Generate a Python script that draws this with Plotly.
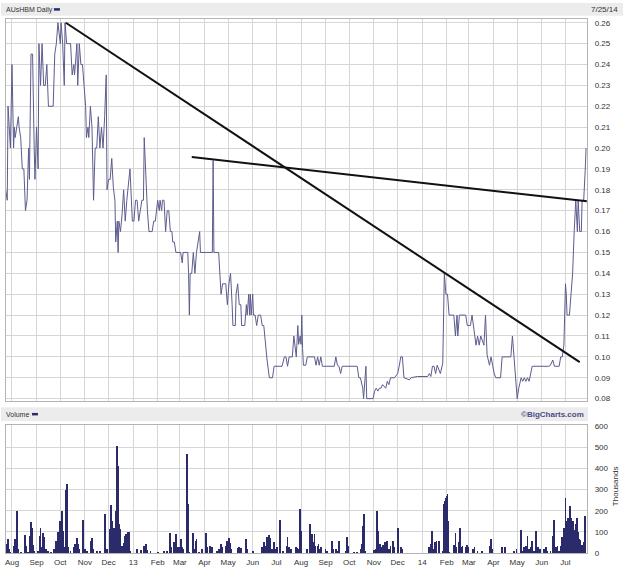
import plotly.graph_objects as go

W, H = 623, 572

# ---------------- data ----------------
price_dates = [
 "2012-07-24","2012-07-26","2012-07-27","2012-07-30","2012-08-01","2012-08-03","2012-08-04","2012-08-05",
 "2012-08-07","2012-08-09","2012-08-10","2012-08-12","2012-08-14","2012-08-16","2012-08-18","2012-08-20",
 "2012-08-22","2012-08-23","2012-08-25","2012-08-27","2012-08-29","2012-08-30","2012-09-01","2012-09-03",
 "2012-09-04","2012-09-06","2012-09-08","2012-09-10","2012-09-12","2012-09-14","2012-09-16","2012-09-22",
 "2012-09-24","2012-09-26","2012-09-28","2012-10-01","2012-10-02","2012-10-04","2012-10-06","2012-10-07",
 "2012-10-09","2012-10-14","2012-10-16","2012-10-18","2012-10-19","2012-10-22","2012-10-23","2012-10-25",
 "2012-10-27","2012-10-29","2012-10-31","2012-11-02","2012-11-03","2012-11-05","2012-11-06","2012-11-08",
 "2012-11-10","2012-11-12","2012-11-14","2012-11-16","2012-11-18","2012-11-20","2012-11-22","2012-11-24",
 "2012-11-26","2012-11-28","2012-11-29","2012-12-01","2012-12-03","2012-12-05","2012-12-07","2012-12-09",
 "2012-12-10","2012-12-12","2012-12-13","2012-12-14","2012-12-16","2012-12-18","2012-12-20","2012-12-22",
 "2012-12-24","2012-12-28","2012-12-31","2013-01-02","2013-01-04","2013-01-06","2013-01-08","2013-01-10",
 "2013-01-12","2013-01-14","2013-01-15","2013-01-19","2013-01-21","2013-01-25","2013-01-27","2013-01-29",
 "2013-02-01","2013-02-03","2013-02-04","2013-02-06","2013-02-07","2013-02-09","2013-02-11","2013-02-13",
 "2013-02-15","2013-02-17","2013-02-19","2013-02-20","2013-02-22","2013-02-24","2013-03-02","2013-03-04",
 "2013-03-05","2013-03-11","2013-03-12","2013-03-13","2013-03-14","2013-03-16","2013-03-18","2013-03-20",
 "2013-03-22","2013-03-26","2013-03-27","2013-04-11","2013-04-12","2013-04-13","2013-04-19","2013-04-22",
 "2013-04-24","2013-04-28","2013-04-30","2013-05-02","2013-05-04","2013-05-06","2013-05-07","2013-05-10",
 "2013-05-11","2013-05-13","2013-05-15","2013-05-17","2013-05-18","2013-05-22","2013-05-24","2013-05-25",
 "2013-05-27","2013-05-28","2013-05-29","2013-05-30","2013-06-01","2013-06-02","2013-06-04","2013-06-06",
 "2013-06-08","2013-06-11","2013-06-13","2013-06-15","2013-06-17","2013-06-19","2013-06-22","2013-06-26",
 "2013-06-28","2013-07-08","2013-07-11","2013-07-13","2013-07-15","2013-07-17","2013-07-21","2013-07-23",
 "2013-07-26","2013-07-28","2013-07-29","2013-07-31","2013-08-01","2013-08-02","2013-08-03","2013-08-04",
 "2013-08-07","2013-08-09","2013-08-18","2013-08-20","2013-08-22","2013-08-24","2013-08-26","2013-08-28",
 "2013-09-12","2013-09-14","2013-09-16","2013-09-18","2013-09-20","2013-09-22","2013-10-11","2013-10-13",
 "2013-10-15","2013-10-18","2013-10-19","2013-10-21","2013-10-22","2013-10-23","2013-10-31","2013-11-02",
 "2013-11-04","2013-11-06","2013-11-08","2013-11-10","2013-11-12","2013-11-16","2013-11-18","2013-11-20",
 "2013-11-22","2013-11-27","2013-12-01","2013-12-03","2013-12-05","2013-12-07","2013-12-09","2013-12-16",
 "2013-12-18","2013-12-26","2014-01-08","2014-01-10","2014-01-12","2014-01-14","2014-01-16","2014-01-18",
 "2014-01-20","2014-01-24","2014-01-27","2014-01-29","2014-01-31","2014-02-02","2014-02-04","2014-02-10",
 "2014-02-12","2014-02-14","2014-02-15","2014-02-17","2014-02-25","2014-02-27","2014-03-03","2014-03-05",
 "2014-03-08","2014-03-10","2014-03-12","2014-03-14","2014-03-16","2014-03-20","2014-03-22","2014-03-24",
 "2014-03-27","2014-03-29","2014-03-31","2014-04-02","2014-04-04","2014-04-10","2014-04-12","2014-04-23",
 "2014-04-25","2014-04-27","2014-04-29","2014-05-01","2014-05-03","2014-05-06","2014-05-08","2014-05-10",
 "2014-05-12","2014-05-14","2014-05-16","2014-05-20","2014-06-10","2014-06-12","2014-06-15","2014-06-17",
 "2014-06-23","2014-06-25","2014-06-27","2014-06-29","2014-07-01","2014-07-02","2014-07-03","2014-07-06",
 "2014-07-08","2014-07-10","2014-07-12","2014-07-14","2014-07-16","2014-07-17","2014-07-19","2014-07-21",
 "2014-07-22","2014-07-24","2014-07-26","2014-07-27",
]
price_values = [
 0.180,0.175,0.220,0.200,0.240,0.200,0.210,0.205,
 0.210,0.215,0.210,0.205,0.190,0.190,0.170,0.175,
 0.200,0.185,0.245,0.245,0.200,0.185,0.210,0.190,
 0.250,0.230,0.250,0.230,0.230,0.240,0.220,0.220,
 0.245,0.250,0.260,0.250,0.260,0.250,0.230,0.260,
 0.250,0.250,0.235,0.240,0.235,0.250,0.230,0.250,
 0.240,0.240,0.230,0.220,0.205,0.210,0.205,0.220,
 0.210,0.175,0.200,0.200,0.215,0.200,0.210,0.200,
 0.215,0.235,0.180,0.185,0.185,0.195,0.181,0.175,
 0.155,0.165,0.150,0.165,0.160,0.168,0.180,0.165,
 0.175,0.190,0.165,0.165,0.175,0.175,0.165,0.170,
 0.175,0.175,0.205,0.170,0.160,0.160,0.165,0.165,
 0.175,0.170,0.175,0.170,0.175,0.175,0.160,0.170,
 0.170,0.160,0.160,0.155,0.155,0.150,0.150,0.145,
 0.150,0.150,0.140,0.120,0.140,0.140,0.150,0.140,
 0.150,0.160,0.150,0.150,0.194,0.150,0.150,0.130,
 0.135,0.135,0.125,0.135,0.140,0.125,0.115,0.115,
 0.130,0.135,0.125,0.125,0.115,0.115,0.125,0.120,
 0.130,0.120,0.130,0.120,0.130,0.120,0.120,0.115,
 0.120,0.120,0.115,0.115,0.106,0.099,0.090,0.090,
 0.0955,0.0955,0.100,0.100,0.0955,0.100,0.100,0.110,
 0.100,0.115,0.106,0.110,0.106,0.120,0.104,0.096,
 0.096,0.100,0.100,0.096,0.100,0.096,0.100,0.0955,
 0.0955,0.100,0.096,0.0955,0.092,0.0955,0.0955,0.090,
 0.090,0.085,0.080,0.090,0.0955,0.080,0.080,0.0836,
 0.085,0.0836,0.085,0.085,0.0867,0.085,0.0883,0.0867,
 0.090,0.090,0.092,0.0955,0.100,0.100,0.090,0.089,
 0.090,0.0906,0.0906,0.092,0.0906,0.0955,0.0955,0.092,
 0.096,0.092,0.097,0.140,0.130,0.130,0.120,0.120,
 0.110,0.120,0.110,0.120,0.120,0.115,0.115,0.120,
 0.110,0.1056,0.110,0.1056,0.110,0.1056,0.120,0.101,
 0.096,0.100,0.096,0.092,0.090,0.090,0.100,0.100,
 0.110,0.100,0.090,0.080,0.085,0.090,0.0883,0.090,
 0.0883,0.090,0.0883,0.0955,0.0955,0.096,0.0985,0.0955,
 0.0955,0.100,0.100,0.1056,0.135,0.130,0.120,0.120,
 0.130,0.140,0.160,0.175,0.160,0.175,0.160,0.160,
 0.175,0.175,0.190,0.200,
]

vol_dates = [
 "2012-07-24","2012-07-25","2012-07-27","2012-07-28","2012-07-30","2012-08-03","2012-08-05","2012-08-07",
 "2012-08-08","2012-08-09","2012-08-12","2012-08-17","2012-08-19","2012-08-21","2012-08-23","2012-08-24",
 "2012-08-25","2012-08-26","2012-08-28","2012-08-29","2012-09-03","2012-09-05","2012-09-06","2012-09-07",
 "2012-09-09","2012-09-10","2012-09-11","2012-09-13","2012-09-15","2012-09-19","2012-09-23","2012-09-25",
 "2012-09-26","2012-09-28","2012-09-29","2012-10-01","2012-10-02","2012-10-03","2012-10-04","2012-10-07",
 "2012-10-08","2012-10-09","2012-10-10","2012-10-11","2012-10-14","2012-10-18","2012-10-20","2012-10-22",
 "2012-10-23","2012-10-25","2012-10-30","2012-11-01","2012-11-04","2012-11-08","2012-11-09","2012-11-10",
 "2012-11-12","2012-11-16","2012-11-20","2012-11-26","2012-11-27","2012-11-29","2012-12-03","2012-12-04",
 "2012-12-05","2012-12-06","2012-12-07","2012-12-08","2012-12-09","2012-12-10","2012-12-11","2012-12-12",
 "2012-12-13","2012-12-14","2012-12-15","2012-12-16","2012-12-18","2012-12-20","2012-12-22","2012-12-23",
 "2012-12-25","2012-12-27","2012-12-28","2013-01-06","2013-01-11","2013-01-15","2013-01-17","2013-01-19",
 "2013-01-23","2013-02-01","2013-02-09","2013-02-13","2013-02-17","2013-02-18","2013-02-21","2013-02-22",
 "2013-02-24","2013-02-25","2013-02-28","2013-03-02","2013-03-04","2013-03-05","2013-03-10","2013-03-11",
 "2013-03-13","2013-03-18","2013-03-20","2013-03-21","2013-03-22","2013-03-25","2013-03-29","2013-04-03",
 "2013-04-04","2013-04-08","2013-04-10","2013-04-11","2013-04-17","2013-04-19","2013-04-22","2013-04-23",
 "2013-04-28","2013-04-30","2013-05-02","2013-05-03","2013-05-05","2013-05-13","2013-05-15","2013-05-17",
 "2013-05-24","2013-05-25","2013-06-01","2013-06-13","2013-06-15","2013-06-17","2013-06-19","2013-06-22",
 "2013-06-23","2013-06-25","2013-06-28","2013-06-30","2013-07-02","2013-07-05","2013-07-06","2013-07-09",
 "2013-07-14","2013-07-15","2013-07-17","2013-07-19","2013-07-26","2013-07-27","2013-07-29","2013-07-31",
 "2013-08-01","2013-08-09","2013-08-12","2013-08-13","2013-08-15","2013-08-16","2013-08-18","2013-08-19",
 "2013-08-22","2013-08-23","2013-08-25","2013-08-26","2013-09-01","2013-09-03","2013-09-09","2013-09-11",
 "2013-09-14","2013-09-16","2013-09-18","2013-09-27","2013-09-28","2013-09-29","2013-10-07","2013-10-11",
 "2013-10-15","2013-10-17","2013-10-18","2013-10-20","2013-10-21","2013-11-01","2013-11-03","2013-11-05",
 "2013-11-06","2013-11-07","2013-11-09","2013-11-11","2013-11-13","2013-11-14","2013-11-15","2013-11-17",
 "2013-11-18","2013-11-20","2013-11-22","2013-11-25","2013-11-26","2013-12-01","2013-12-02","2013-12-05",
 "2013-12-07","2014-01-10","2014-01-12","2014-01-13","2014-01-15","2014-01-17","2014-01-19","2014-01-22",
 "2014-01-23","2014-01-27","2014-01-28","2014-01-29","2014-01-30","2014-01-31","2014-02-01","2014-02-02",
 "2014-02-03","2014-02-04","2014-02-10","2014-02-12","2014-02-13","2014-02-17","2014-02-18","2014-02-19",
 "2014-02-21","2014-02-25","2014-02-27","2014-02-28","2014-03-06","2014-03-08","2014-03-12","2014-03-18",
 "2014-03-27","2014-03-29","2014-03-30","2014-04-12","2014-04-15","2014-04-16","2014-04-27","2014-04-30",
 "2014-05-06","2014-05-08","2014-05-10","2014-05-12","2014-05-14","2014-05-16","2014-05-18","2014-05-20",
 "2014-05-22","2014-05-25","2014-05-26","2014-05-28","2014-05-30","2014-06-04","2014-06-06","2014-06-08",
 "2014-06-12","2014-06-15","2014-06-16","2014-06-17","2014-06-19","2014-06-21","2014-06-23","2014-06-25",
 "2014-06-27","2014-06-29","2014-07-01","2014-07-02","2014-07-03","2014-07-04","2014-07-05","2014-07-06",
 "2014-07-07","2014-07-08","2014-07-09","2014-07-10","2014-07-11","2014-07-12","2014-07-13","2014-07-14",
 "2014-07-15","2014-07-16","2014-07-17","2014-07-18","2014-07-19","2014-07-20","2014-07-21","2014-07-22",
 "2014-07-23","2014-07-24","2014-07-25","2014-07-26",
]
vol_values = [
 28,44,67,20,5,36,67,199,
 106,20,5,87,36,5,28,82,
 149,121,40,12,12,82,118,28,
 93,75,44,20,12,5,20,36,
 59,98,82,152,121,199,106,28,
 300,327,168,28,12,28,44,72,
 44,20,157,20,12,36,59,72,
 20,9,9,187,98,20,113,225,
 90,150,113,120,106,199,308,507,
 409,137,113,16,36,47,82,90,
 98,98,12,20,16,36,44,16,
 9,5,9,12,93,28,40,51,
 90,28,28,67,28,20,467,233,
 5,93,20,59,67,5,20,93,
 28,36,20,28,12,20,44,28,
 36,59,72,47,20,25,28,25,
 67,20,8,28,51,36,75,87,
 72,20,51,20,28,155,75,8,
 36,75,28,20,31,25,20,207,
 106,20,137,106,90,51,90,36,
 36,44,20,28,20,12,56,20,
 20,12,56,12,75,36,5,5,
 20,44,129,187,12,16,20,199,
 106,12,44,28,40,36,51,28,
 56,20,36,56,28,118,36,28,
 20,28,44,106,20,51,56,56,
 5,12,199,230,246,261,270,280,
 152,5,40,93,28,51,121,28,
 36,28,40,28,20,28,12,12,
 36,67,20,28,31,28,9,20,
 109,12,28,36,82,20,28,56,
 12,106,28,31,20,20,28,12,
 12,82,155,47,28,36,9,36,
 75,121,261,152,130,168,106,140,
 222,168,150,121,152,90,110,137,
 120,168,100,67,60,44,40,28,
 40,51,106,176,
]

trend1_dates = ["2012-10-08", "2014-07-19"]
trend1_values = [0.260, 0.0975]
trend2_dates = ["2013-03-16", "2014-07-28"]
trend2_values = [0.1957, 0.1745]

month_ticks = ["2012-08-01","2012-09-01","2012-10-01","2012-11-01","2012-12-01","2013-01-01",
               "2013-02-01","2013-03-01","2013-04-01","2013-05-01","2013-06-01","2013-07-01",
               "2013-08-01","2013-09-01","2013-10-01","2013-11-01","2013-12-01","2014-01-01",
               "2014-02-01","2014-03-01","2014-04-01","2014-05-01","2014-06-01","2014-07-01"]
month_labels = ["Aug","Sep","Oct","Nov","Dec","13","Feb","Mar","Apr","May","Jun","Jul",
                "Aug","Sep","Oct","Nov","Dec","14","Feb","Mar","Apr","May","Jun","Jul"]
price_ticks = [0.08,0.09,0.10,0.11,0.12,0.13,0.14,0.15,0.16,0.17,0.18,0.19,0.20,
               0.21,0.22,0.23,0.24,0.25,0.26]
vol_ticks = [0, 100, 200, 300, 400, 500, 600]

# ---------------- styling ----------------
FONT = "Liberation Sans"
TXT = "#333333"
GRID = "#d6d6d6"
FRAME = "#b4b4b4"
NAVY = "#2b2a6b"
PRICE_COL = "#5c5c8e"

def px_x(p):
    return p / W

def px_y(p):
    return 1 - p / H

xdom = [px_x(5), px_x(587)]
xrange_ = ["2012-07-24 10:00", "2014-07-28 06:00"]

fig = go.Figure()

fig.add_trace(go.Bar(x=vol_dates, y=vol_values, xaxis="x", yaxis="y",
                     marker=dict(color=NAVY, line=dict(width=0)),
                     width=86400000 * 1.0, showlegend=False, hoverinfo="skip"))

fig.add_trace(go.Scatter(x=price_dates, y=price_values, xaxis="x2", yaxis="y2",
                         mode="lines", line=dict(color=PRICE_COL, width=1),
                         showlegend=False, hoverinfo="skip"))
fig.add_trace(go.Scatter(x=trend1_dates, y=trend1_values, xaxis="x2", yaxis="y2",
                         mode="lines", line=dict(color="#111111", width=2),
                         showlegend=False, hoverinfo="skip"))
fig.add_trace(go.Scatter(x=trend2_dates, y=trend2_values, xaxis="x2", yaxis="y2",
                         mode="lines", line=dict(color="#111111", width=2),
                         showlegend=False, hoverinfo="skip"))

common_x = dict(type="date", domain=xdom, range=xrange_, tickvals=month_ticks,
                showgrid=True, gridcolor=GRID, gridwidth=1, zeroline=False,
                showline=True, mirror=True, linecolor=FRAME, linewidth=1, ticks="")

fig.update_layout(
    width=W, height=H, autosize=False,
    margin=dict(l=0, r=0, t=0, b=0),
    paper_bgcolor="white", plot_bgcolor="white",
    bargap=0,
    font=dict(family=FONT, size=8, color=TXT),
    xaxis=dict(**common_x, anchor="y", ticktext=month_labels,
               tickfont=dict(family=FONT, size=8, color=TXT), ticklabelstandoff=1),
    xaxis2=dict(**common_x, anchor="y2", matches="x", showticklabels=False),
    yaxis=dict(domain=[px_y(558), px_y(428)], range=[0, 604], side="right",
               tickvals=vol_ticks, ticktext=[str(v) for v in vol_ticks],
               showgrid=True, gridcolor=GRID, zeroline=False, ticks="",
               showline=True, mirror=True, linecolor=FRAME, anchor="x",
               tickfont=dict(family=FONT, size=8, color=TXT), ticklabelstandoff=5),
    yaxis2=dict(domain=[px_y(404), px_y(16)], range=[0.0787, 0.2619], side="right",
                tickvals=price_ticks, ticktext=["%.2f" % v for v in price_ticks],
                showgrid=True, gridcolor=GRID, zeroline=False, ticks="",
                showline=True, mirror=True, linecolor=FRAME, anchor="x2",
                tickfont=dict(family=FONT, size=8, color=TXT), ticklabelstandoff=5),
)

shapes = [
    dict(type="rect", xref="paper", yref="paper", x0=0, x1=1, y0=px_y(13), y1=1,
         fillcolor="#ececec", line=dict(width=0), layer="below"),
    dict(type="rect", xref="paper", yref="paper", x0=0, x1=px_x(588), y0=px_y(424), y1=px_y(410),
         fillcolor="#ececec", line=dict(width=0), layer="below"),
    dict(type="line", xref="paper", yref="paper", x0=px_x(53), x1=px_x(59), y0=px_y(6.5), y1=px_y(6.5),
         line=dict(color=NAVY, width=2.5)),
    dict(type="line", xref="paper", yref="paper", x0=px_x(31), x1=px_x(37), y0=px_y(417), y1=px_y(417),
         line=dict(color=NAVY, width=2.5)),
]

annotations = [
    dict(text="AUsHBM Daily", x=px_x(3), y=px_y(7), xref="paper", yref="paper",
         xanchor="left", yanchor="middle", showarrow=False, font=dict(size=7, color=TXT)),
    dict(text="7/25/14", x=px_x(620), y=px_y(7), xref="paper", yref="paper",
         xanchor="right", yanchor="middle", showarrow=False, font=dict(size=8, color=TXT)),
    dict(text="Volume", x=px_x(3), y=px_y(417), xref="paper", yref="paper",
         xanchor="left", yanchor="middle", showarrow=False, font=dict(size=7, color=TXT)),
    dict(text="<b>©BigCharts.com</b>", x=px_x(586), y=px_y(417), xref="paper", yref="paper",
         xanchor="right", yanchor="middle", showarrow=False, font=dict(size=8, color="#4b4b85")),
    dict(text="Thousands", x=px_x(615), y=px_y(490), xref="paper", yref="paper",
         xanchor="center", yanchor="middle", textangle=-90, showarrow=False,
         font=dict(size=8, color=TXT)),
]

fig.update_layout(shapes=shapes, annotations=annotations)

fig.write_html("out.html",
               config={"displayModeBar": False},
               post_script="document.body.style.margin='0';document.body.style.padding='0';")
